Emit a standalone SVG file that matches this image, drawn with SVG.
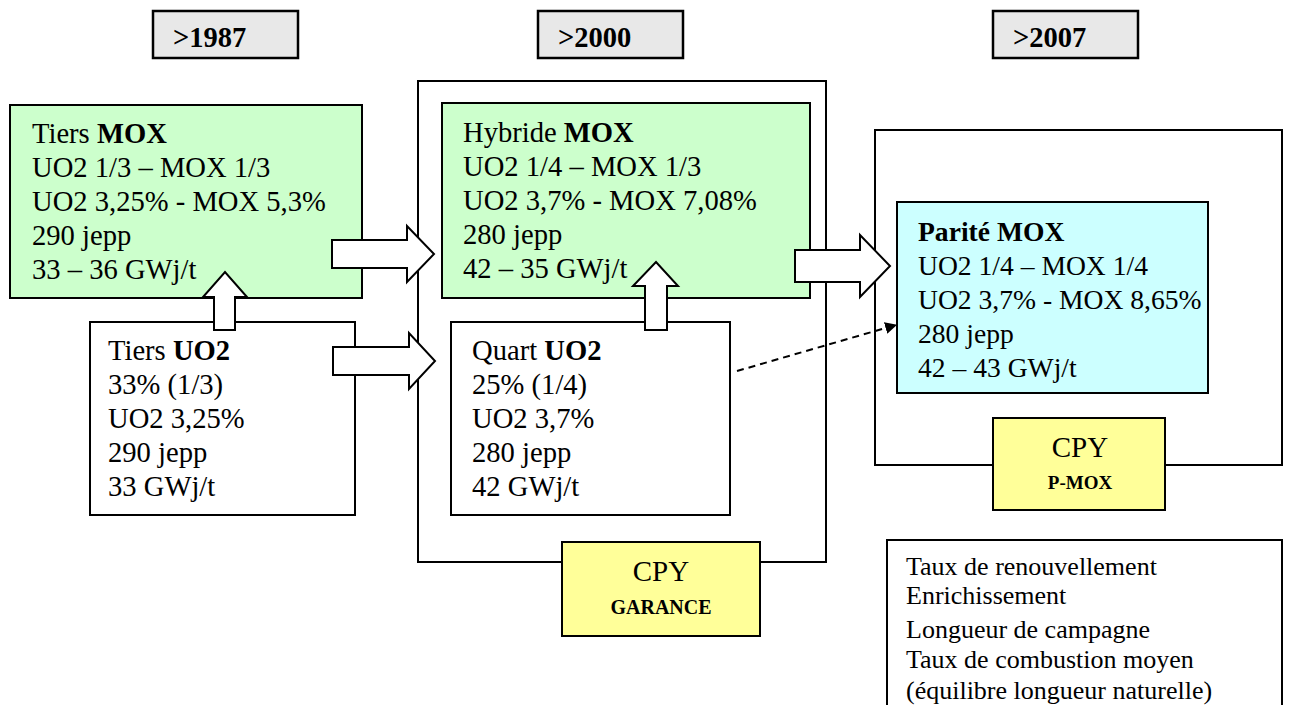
<svg xmlns="http://www.w3.org/2000/svg" width="1290" height="705" viewBox="0 0 1290 705">
  <defs>
    <style>
      .t { font-family: "Liberation Serif", "Times New Roman", serif; fill: #000; }
      .body { font-size: 28.6px; }
      .body2 { font-size: 27.6px; }
      .hdr { font-size: 28.5px; font-weight: bold; }
      .leg { font-size: 26px; }
      .b { font-weight: bold; }
      .box { stroke: #000; stroke-width: 2; }
      .frame { fill: none; stroke: #000; stroke-width: 2; }
      .period { fill: #e8e8e8; stroke: #000; stroke-width: 2.5; }
      .green { fill: #ccffcc; }
      .white { fill: #ffffff; }
      .cyan { fill: #ccffff; }
      .yellow { fill: #ffff99; }
      .block { fill: #ffffff; stroke: #000; stroke-width: 2; stroke-linejoin: miter; }
      .dash { fill: none; stroke: #000; stroke-width: 2; stroke-dasharray: 7 5; }
    </style>
    <marker id="head" viewBox="0 0 10 10" refX="9" refY="5" markerWidth="6" markerHeight="6" orient="auto" markerUnits="strokeWidth">
      <path d="M0,0 L10,5 L0,10 z" fill="#000"/>
    </marker>
  </defs>

  <!-- period headers -->
  <g id="period-1987">
    <rect class="period" x="153" y="11" width="145" height="47"/>
    <text class="t hdr" x="173" y="47">&gt;1987</text>
  </g>
  <g id="period-2000">
    <rect class="period" x="538" y="11" width="145" height="47"/>
    <text class="t hdr" x="558" y="47">&gt;2000</text>
  </g>
  <g id="period-2007">
    <rect class="period" x="993" y="11" width="145" height="47"/>
    <text class="t hdr" x="1013" y="47">&gt;2007</text>
  </g>

  <!-- management frames -->
  <g id="frame-garance">
    <rect class="frame" x="418" y="81" width="408" height="481"/>
  </g>
  <g id="frame-pmox">
    <rect class="frame" x="875" y="130" width="407" height="335"/>
  </g>

  <!-- 1987 schemes -->
  <g id="tiers-mox">
    <rect class="box green" x="10" y="105" width="352" height="193"/>
    <text class="t body" x="32" y="143">Tiers <tspan class="b">MOX</tspan></text>
    <text class="t body" x="32" y="177">UO2 1/3 – MOX 1/3</text>
    <text class="t body" x="32" y="211">UO2 3,25% - MOX 5,3%</text>
    <text class="t body" x="32" y="245">290 jepp</text>
    <text class="t body" x="32" y="279">33 – 36 GWj/t</text>
  </g>
  <g id="tiers-uo2">
    <rect class="box white" x="90" y="322" width="265" height="193"/>
    <text class="t body" x="108" y="360">Tiers <tspan class="b">UO2</tspan></text>
    <text class="t body" x="108" y="394">33% (1/3)</text>
    <text class="t body" x="108" y="428">UO2 3,25%</text>
    <text class="t body" x="108" y="462">290 jepp</text>
    <text class="t body" x="108" y="496">33 GWj/t</text>
  </g>

  <!-- 2000 schemes -->
  <g id="hybride-mox">
    <rect class="box green" x="442" y="103" width="368" height="195"/>
    <text class="t body" x="463" y="142">Hybride <tspan class="b">MOX</tspan></text>
    <text class="t body" x="463" y="176">UO2 1/4 – MOX 1/3</text>
    <text class="t body" x="463" y="210">UO2 3,7% - MOX 7,08%</text>
    <text class="t body" x="463" y="244">280 jepp</text>
    <text class="t body" x="463" y="278">42 – 35 GWj/t</text>
  </g>
  <g id="quart-uo2">
    <rect class="box white" x="451" y="322" width="279" height="193"/>
    <text class="t body" x="472" y="360">Quart <tspan class="b">UO2</tspan></text>
    <text class="t body" x="472" y="394">25% (1/4)</text>
    <text class="t body" x="472" y="428">UO2 3,7%</text>
    <text class="t body" x="472" y="462">280 jepp</text>
    <text class="t body" x="472" y="496">42 GWj/t</text>
  </g>
  <g id="cpy-garance">
    <rect class="box yellow" x="562" y="542" width="198" height="94"/>
    <text class="t" x="661" y="581" font-size="29" text-anchor="middle">CPY</text>
    <text class="t b" x="661" y="614" font-size="20" text-anchor="middle">GARANCE</text>
  </g>

  <!-- 2007 scheme -->
  <g id="parite-mox">
    <rect class="box cyan" x="897" y="202" width="311" height="191"/>
    <text class="t body2 b" x="918" y="241">Parité MOX</text>
    <text class="t body2" x="918" y="275">UO2 1/4 – MOX 1/4</text>
    <text class="t body2" x="918" y="309">UO2 3,7% - MOX 8,65%</text>
    <text class="t body2" x="918" y="343">280 jepp</text>
    <text class="t body2" x="918" y="377">42 – 43 GWj/t</text>
  </g>
  <g id="cpy-pmox">
    <rect class="box yellow" x="993" y="418" width="172" height="92"/>
    <text class="t" x="1080" y="457" font-size="29" text-anchor="middle">CPY</text>
    <text class="t b" x="1080" y="489" font-size="19" text-anchor="middle">P-MOX</text>
  </g>

  <!-- parameter legend (runs past the bottom edge) -->
  <g id="legend">
    <rect class="box white" x="887" y="540" width="395" height="175"/>
    <text class="t leg" x="906" y="575">Taux de renouvellement</text>
    <text class="t leg" x="906" y="604">Enrichissement</text>
    <text class="t leg" x="906" y="638">Longueur de campagne</text>
    <text class="t leg" x="906" y="668">Taux de combustion moyen</text>
    <text class="t leg" x="906" y="699">(équilibre longueur naturelle)</text>
  </g>

  <!-- transitions -->
  <g id="connectors">
    <path class="block" d="M332,240 H407 V226 L434,254 L407,282 V268 H332 Z"/>
    <path class="block" d="M333,347 H409 V333 L435,361 L409,389 V375 H333 Z"/>
    <path class="block" d="M795,250 H860 V235 L890,266 L860,297 V282 H795 Z"/>
    <path class="block" d="M214,330 V297 H203 L225,272 L247,297 H235 V330 Z"/>
    <path class="block" d="M645,330 V286 H633 L656,262 L678,286 H667 V330 Z"/>
    <line class="dash" x1="737" y1="371" x2="896" y2="325" marker-end="url(#head)"/>
  </g>
</svg>
